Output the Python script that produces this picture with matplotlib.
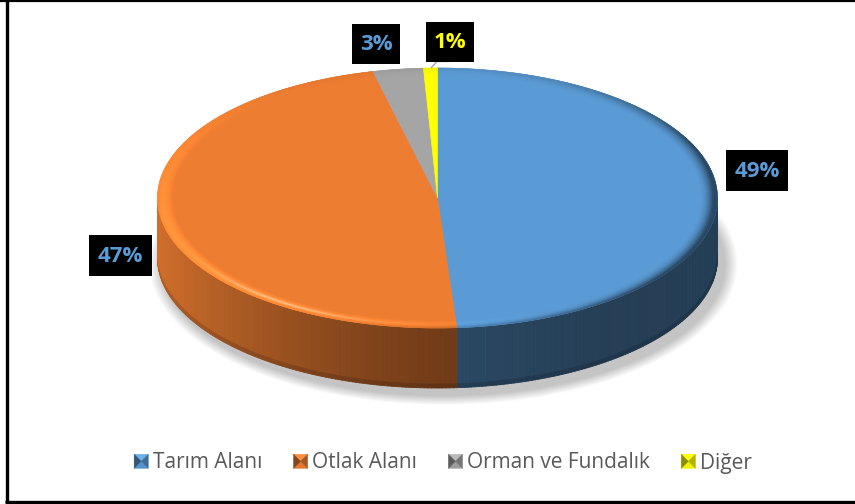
import numpy as np
import matplotlib
matplotlib.use("Agg")
import matplotlib.pyplot as plt
from matplotlib.collections import PolyCollection
from matplotlib.patches import Polygon, Rectangle, Ellipse, Patch
from matplotlib.legend_handler import HandlerBase
from matplotlib.colors import to_rgb

# ---------------- data ----------------
categories = ['Tarım Alanı', 'Otlak Alanı', 'Orman ve Fundalık', 'Diğer']
values = [48.9, 47.4, 2.9, 0.8]
slice_colors = ['#5b9bd5', '#ed7d31', '#a5a5a5', '#ffff00']
label_text_colors = ['#5b9bd5', '#5b9bd5', '#5b9bd5', '#ffff00']
# label box centres (pixels) and sizes
label_pos = [(757, 170.5), (120.5, 255.5), (376, 44), (450, 42)]
label_size = [(62, 41), (63, 41), (48, 40), (48, 40)]

# ---------------- geometry ----------------
W, H = 855, 504
cx, cy = 437.5, 198.0
A, B = 280.0, 130.0
DEPTH = 60.0

fig = plt.figure(figsize=(W / 100, H / 100), dpi=100)
ax = fig.add_axes([0, 0, 1, 1])
ax.set_xlim(0, W)
ax.set_ylim(H, 0)
ax.axis('off')


def pt(t, s=1.0, dz=0.0):
    return cx + s * A * np.cos(t), cy - s * B * np.sin(t) + dz


Lv = np.array([-0.62, -0.35, 0.70]); Lv /= np.linalg.norm(Lv)
Vv = np.array([0.0, -0.55, 0.83]); Vv /= np.linalg.norm(Vv)
Hv = (Lv + Vv); Hv /= np.linalg.norm(Hv)
top_I = 0.38 + 0.62 * Lv[2]


def shade(base, n, spec=True):
    nl = max(0.0, float(np.dot(n, Lv)))
    f = (0.38 + 0.62 * nl) / top_I
    c = np.clip(np.array(base) * f, 0, 1)
    if spec:
        s = 0.45 * max(0.0, float(np.dot(n, Hv))) ** 60
        c = c + (1 - c) * s
    return np.clip(c, 0, 1)


def side_shade(base, t):
    f = 0.40 + 0.48 * ((1 - np.cos(t)) / 2) ** 2.5
    return np.clip(np.array(base) * f, 0, 1)


total = float(sum(values))
cum = np.concatenate([[0], np.cumsum(values)]) / total
t_start = np.deg2rad(90 - 360 * cum[:-1])
t_end = np.deg2rad(90 - 360 * cum[1:])

# ---------------- shadow ----------------
for k in range(12):
    e = Ellipse((cx + 6, cy + DEPTH + 6), 2 * A + 4 + 2.2 * k, 2 * B + 4 + 1.6 * k,
                facecolor='black', edgecolor='none', alpha=0.018, zorder=1)
    ax.add_patch(e)

# ---------------- side walls ----------------
step = np.deg2rad(0.75)
side_polys, side_cols = [], []
for i in range(len(values)):
    base = to_rgb(slice_colors[i])
    a0, a1 = t_end[i], t_start[i]  # a0 < a1
    for off in (0.0, -2 * np.pi, 2 * np.pi):
        lo = max(a0 + off, -np.pi)
        hi = min(a1 + off, 0.0)
        if hi <= lo:
            continue
        n_seg = max(1, int(np.ceil((hi - lo) / step)))
        ts = np.linspace(lo, hi, n_seg + 1)
        for k in range(n_seg):
            t0, t1 = ts[k], ts[k + 1]
            tm = 0.5 * (t0 + t1)
            p1 = [pt(t0), pt(t1), pt(t1, dz=DEPTH - 4), pt(t0, dz=DEPTH - 4)]
            p2 = [pt(t0, dz=DEPTH - 4), pt(t1, dz=DEPTH - 4), pt(t1, dz=DEPTH), pt(t0, dz=DEPTH)]
            c = side_shade(base, tm)
            side_polys += [p1, p2]
            side_cols += [c, c * 0.85]
pc = PolyCollection(side_polys, facecolors=side_cols, edgecolors=side_cols,
                    linewidths=0.6, zorder=2)
ax.add_collection(pc)

# ---------------- top face ----------------
for i in range(len(values)):
    ts = np.linspace(t_start[i], t_end[i], 200)
    xs, ys = pt(ts)
    poly = Polygon(np.column_stack([np.r_[cx, xs], np.r_[cy, ys]]), closed=True,
                   facecolor=slice_colors[i], edgecolor=slice_colors[i], lw=0.4, zorder=3)
    ax.add_patch(poly)

# bevel on the rim
BW = 0.06
NB = 10
bev_polys, bev_cols = [], []
us = np.linspace(0, 1, NB + 1)
for i in range(len(values)):
    base = to_rgb(slice_colors[i])
    a0, a1 = t_end[i], t_start[i]
    n_seg = max(1, int(np.ceil((a1 - a0) / step)))
    ts = np.linspace(a0, a1, n_seg + 1)
    for k in range(n_seg):
        t0, t1 = ts[k], ts[k + 1]
        tm = 0.5 * (t0 + t1)
        back = max(0.0, np.sin(tm))
        for j in range(NB):
            s0 = 1 - BW + BW * us[j]
            s1 = 1 - BW + BW * us[j + 1]
            um = 0.5 * (us[j] + us[j + 1])
            phi = np.deg2rad(75) * um ** 1.6 * (1 - 0.85 * back)
            n = np.array([np.sin(phi) * np.cos(tm), np.sin(phi) * np.sin(tm), np.cos(phi)])
            bev_polys.append([pt(t0, s0), pt(t1, s0), pt(t1, s1), pt(t0, s1)])
            bev_cols.append(shade(base, n))
bc = PolyCollection(bev_polys, facecolors=bev_cols, edgecolors=bev_cols,
                    linewidths=0.4, zorder=4)
ax.add_collection(bc)

# ---------------- data labels ----------------
for i in range(len(values)):
    (x, y), (w, h) = label_pos[i], label_size[i]
    ax.add_patch(Rectangle((x - w / 2, y - h / 2), w, h, facecolor='black',
                           edgecolor='none', zorder=6))
    ax.text(x, y + 1, f"{values[i]:.0f}%", ha='center', va='center',
            fontsize=16, fontweight='bold', family=['Open Sans', 'DejaVu Sans'],
            color=label_text_colors[i], zorder=7)

# leader line for the small slice
ax.plot([label_pos[3][0], 437, 431], [61.5, 61.5, 68], color='#a6a6a6', lw=1.0,
        zorder=5, solid_capstyle='butt')


# ---------------- legend ----------------
class PyramidHandler(HandlerBase):
    def create_artists(self, legend, orig_handle, xdescent, ydescent,
                       width, height, fontsize, trans):
        c = np.array(to_rgb(orig_handle.get_facecolor()))
        x0, y0 = -xdescent, -ydescent
        s = min(width, height)
        x0 = x0 + (width - s) / 2
        cxm, cym = x0 + s / 2, y0 + s / 2
        tris = [
            ([(x0, y0 + s), (x0 + s, y0 + s), (cxm, cym)], np.clip(c * 1.05 + 0.05, 0, 1)),
            ([(x0, y0), (x0 + s, y0), (cxm, cym)], np.clip(c * 0.95, 0, 1)),
            ([(x0, y0), (x0, y0 + s), (cxm, cym)], c * 0.55),
            ([(x0 + s, y0), (x0 + s, y0 + s), (cxm, cym)], c * 0.7),
        ]
        arts = []
        for verts, col in tris:
            p = Polygon(verts, closed=True, facecolor=col, edgecolor=col, lw=0.3,
                        transform=trans)
            arts.append(p)
        return arts


handles = [Patch(facecolor=c) for c in slice_colors]
fs = 15
leg = ax.legend(handles, categories, loc='center', bbox_to_anchor=(443, 463),
                bbox_transform=ax.transData, ncol=4, frameon=False,
                handler_map={Patch: PyramidHandler()},
                prop={'family': ['Open Sans', 'DejaVu Sans'], 'size': fs},
                handlelength=0.68, handleheight=0.68, handletextpad=0.22,
                columnspacing=1.5, borderpad=0, borderaxespad=0)
for txt in leg.get_texts():
    txt.set_color('#595959')

# ---------------- chart border ----------------
ax.plot([6.5, 6.5], [0, 502], color='black', lw=2.4, solid_capstyle='butt', zorder=10)
ax.plot([0, W], [0.8, 0.8], color='black', lw=1.6, solid_capstyle='butt', zorder=10)
ax.plot([5, W], [501.5, 501.5], color='black', lw=2.4, solid_capstyle='butt', zorder=10)

fig.savefig('out.png', dpi=100)
